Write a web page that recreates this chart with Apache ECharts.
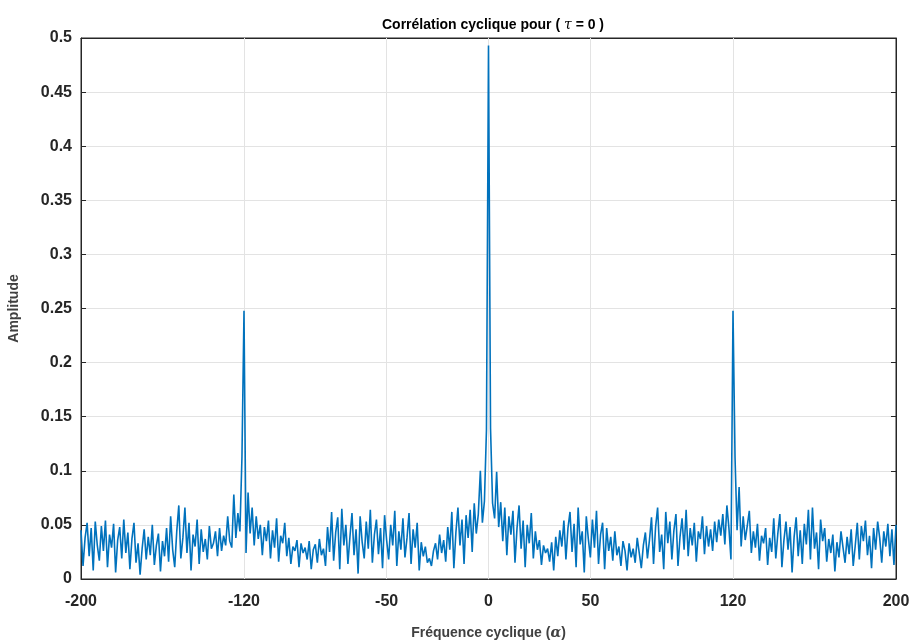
<!DOCTYPE html>
<html>
<head>
<meta charset="utf-8">
<script src="https://cdn.jsdelivr.net/npm/echarts@6/dist/echarts.min.js"></script>
<style>
html,body{margin:0;padding:0;background:#fff;}
#chart{width:913px;height:642px;}
</style>
</head>
<body>
<div id="chart"></div>
<script>
// Cyclic frequency (alpha) grid: -200 .. 200, step 1
const alphaStart = -200;
const alphaStep = 1;
// Amplitude values, one per alpha
const amplitude = [
0.045,0.012,0.038,0.052,0.021,0.047,0.008,0.053,0.031,0.017,0.049,0.026,0.054,0.011,0.041,0.029,0.051,0.006,0.036,0.048,
0.019,0.055,0.024,0.043,0.009,0.037,0.052,0.015,0.033,0.004,0.028,0.046,0.018,0.039,0.022,0.050,0.013,0.031,0.042,0.007,
0.035,0.021,0.047,0.016,0.058,0.027,0.011,0.044,0.068,0.019,0.038,0.066,0.024,0.052,0.008,0.041,0.030,0.055,0.014,0.046,
0.025,0.037,0.018,0.049,0.028,0.033,0.044,0.021,0.047,0.026,0.040,0.031,0.058,0.035,0.029,0.078,0.038,0.061,0.044,0.113,
0.248,0.024,0.080,0.042,0.066,0.031,0.058,0.037,0.050,0.022,0.048,0.035,0.054,0.019,0.045,0.029,0.056,0.016,0.040,0.033,
0.052,0.021,0.038,0.014,0.030,0.026,0.036,0.011,0.033,0.024,0.029,0.018,0.035,0.009,0.027,0.032,0.015,0.037,0.022,0.028,
0.012,0.048,0.025,0.062,0.017,0.043,0.057,0.009,0.065,0.031,0.050,0.014,0.039,0.061,0.022,0.046,0.005,0.058,0.034,0.019,
0.053,0.028,0.064,0.015,0.041,0.055,0.023,0.047,0.010,0.059,0.036,0.018,0.050,0.031,0.063,0.012,0.044,0.027,0.056,0.020,
0.038,0.061,0.014,0.046,0.029,0.052,0.008,0.034,0.021,0.030,0.015,0.019,0.012,0.026,0.033,0.018,0.041,0.024,0.036,0.016,
0.048,0.027,0.062,0.010,0.043,0.066,0.031,0.055,0.014,0.059,0.038,0.064,0.025,0.070,0.042,0.060,0.100,0.052,0.072,0.138,
0.493,0.139,0.070,0.056,0.099,0.048,0.071,0.035,0.066,0.022,0.058,0.041,0.063,0.015,0.047,0.068,0.028,0.054,0.011,0.050,
0.033,0.061,0.019,0.044,0.027,0.036,0.013,0.031,0.024,0.028,0.016,0.034,0.008,0.039,0.021,0.045,0.030,0.054,0.018,0.047,
0.062,0.025,0.051,0.011,0.066,0.032,0.044,0.006,0.058,0.037,0.020,0.055,0.029,0.063,0.014,0.041,0.052,0.009,0.047,0.026,
0.039,0.017,0.044,0.022,0.030,0.012,0.035,0.026,0.008,0.033,0.020,0.028,0.015,0.038,0.024,0.010,0.031,0.043,0.019,0.036,
0.057,0.014,0.048,0.066,0.025,0.041,0.009,0.062,0.033,0.053,0.018,0.045,0.060,0.012,0.039,0.056,0.027,0.064,0.021,0.047,
0.031,0.052,0.016,0.044,0.037,0.058,0.023,0.049,0.030,0.046,0.026,0.053,0.034,0.055,0.040,0.060,0.032,0.068,0.047,0.018,
0.248,0.112,0.045,0.085,0.030,0.058,0.036,0.049,0.063,0.024,0.044,0.029,0.051,0.017,0.040,0.033,0.047,0.013,0.038,0.025,
0.056,0.019,0.042,0.060,0.011,0.036,0.053,0.027,0.048,0.006,0.039,0.057,0.021,0.045,0.014,0.051,0.032,0.064,0.018,0.066,
0.028,0.043,0.009,0.055,0.035,0.047,0.016,0.037,0.024,0.041,0.007,0.034,0.020,0.044,0.029,0.015,0.039,0.023,0.046,0.012,
0.031,0.052,0.018,0.049,0.035,0.054,0.022,0.040,0.010,0.047,0.027,0.053,0.038,0.015,0.044,0.030,0.051,0.021,0.046,0.013,
0.050
];
const xTicks = [-200, -120, -50, 0, 50, 120, 200];
const xInnerGrid = [-120, -50, 0, 50, 120];
const yMin = 0, yMax = 0.5, yInterval = 0.05;

const seriesData = amplitude.map((v, i) => [alphaStart + i * alphaStep, v]);

const FONT = '"Liberation Sans", Arial, Helvetica, sans-serif';
const chart = echarts.init(document.getElementById('chart'), null, {renderer: 'canvas'});
chart.setOption({
  animation: false,
  backgroundColor: '#ffffff',
  title: {
    text: 'Corrélation cyclique pour ( {g|τ} = 0 )',
    left: 488, top: 13, textAlign: 'center',
    textStyle: {
      fontFamily: FONT, fontWeight: 'bold', fontSize: 14, color: '#000',
      rich: { g: { fontFamily: '"DejaVu Serif", "Liberation Serif", serif', fontStyle: 'italic', fontSize: 14, fontWeight: 'normal', color: '#000' } }
    }
  },
  grid: { left: 81, right: 17, top: 38, bottom: 63, show: true, borderColor: '#262626', borderWidth: 1, backgroundColor: '#fff', outerBoundsMode: 'none', containLabel: false },
  xAxis: [{
    type: 'value', min: -200, max: 200,
    name: 'Fréquence cyclique ({g|α})', nameLocation: 'middle', nameGap: 47,
    nameTextStyle: { fontFamily: FONT, fontWeight: 'bold', fontSize: 14, color: '#404040',
      rich: { g: { fontFamily: '"DejaVu Serif", "Liberation Serif", serif', fontStyle: 'italic', fontSize: 14, color: '#404040' } } },
    axisLine: { show: true, onZero: false, lineStyle: { color: '#262626', width: 1 } },
    axisTick: { show: true, inside: true, length: 5, customValues: xTicks, lineStyle: { color: '#262626' } },
    axisLabel: { customValues: xTicks, margin: 15, fontFamily: FONT, fontWeight: 'bold', fontSize: 16, color: '#262626', showMinLabel: true, showMaxLabel: true },
    splitLine: { show: false }
  }, {
    type: 'value', min: -200, max: 200, position: 'top',
    axisLine: { show: true, onZero: false, lineStyle: { color: '#262626' } },
    axisTick: { show: true, inside: true, length: 5, customValues: xTicks, lineStyle: { color: '#262626' } },
    axisLabel: { show: false },
    splitLine: { show: false }
  }],
  yAxis: [{
    type: 'value', min: yMin, max: yMax, interval: yInterval,
    name: 'Amplitude', nameLocation: 'middle', nameGap: 60, nameRotate: 90,
    nameTextStyle: { fontFamily: FONT, fontWeight: 'bold', fontSize: 14, color: '#404040' },
    axisLine: { show: true, onZero: false, lineStyle: { color: '#262626', width: 1 } },
    axisTick: { show: true, inside: true, length: 5, lineStyle: { color: '#262626' } },
    axisLabel: { margin: 9, fontFamily: FONT, fontWeight: 'bold', fontSize: 16, color: '#262626',
      formatter: v => String(+v.toFixed(2)) },
    splitLine: { show: true, lineStyle: { color: '#e3e3e3', width: 1 } }
  }, {
    type: 'value', min: yMin, max: yMax, interval: yInterval, position: 'right',
    axisLine: { show: true, onZero: false, lineStyle: { color: '#262626' } },
    axisTick: { show: true, inside: true, length: 5, lineStyle: { color: '#262626' } },
    axisLabel: { show: false },
    splitLine: { show: false }
  }],
  series: [{
    type: 'line',
    data: seriesData,
    xAxisIndex: 0, yAxisIndex: 0,
    showSymbol: false, symbol: 'none',
    sampling: null,
    lineStyle: { color: '#0072BD', width: 1.6 },
    itemStyle: { color: '#0072BD' },
    z: 3,
    markLine: {
      silent: true, symbol: ['none', 'none'], label: { show: false },
      lineStyle: { color: '#e3e3e3', width: 1, type: 'solid' },
      z: 1,
      data: xInnerGrid.map(x => ({ xAxis: x }))
    }
  }]
});
</script>
</body>
</html>
